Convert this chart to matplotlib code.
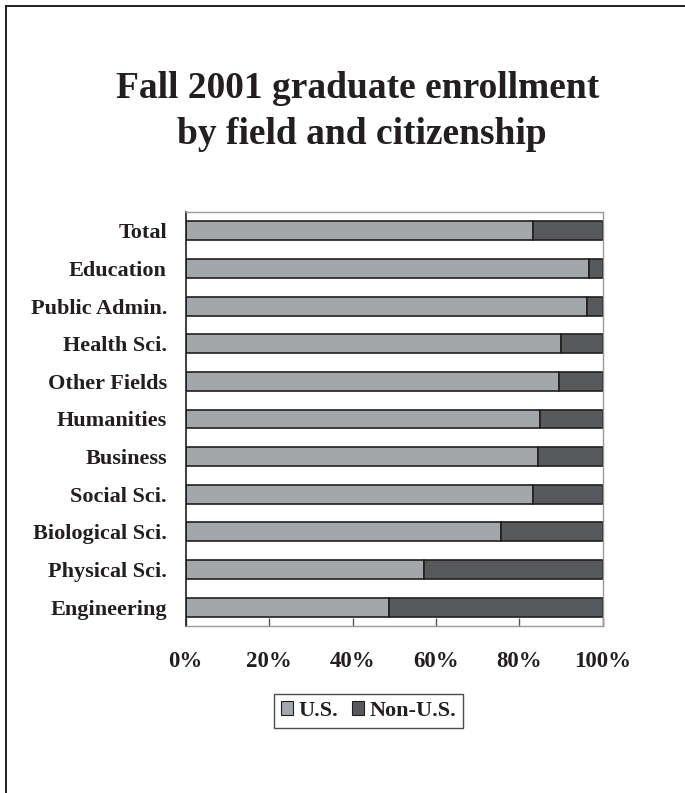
import matplotlib
matplotlib.use("Agg")
import matplotlib.pyplot as plt
from matplotlib.patches import Rectangle
from matplotlib.ticker import FuncFormatter

plt.rcParams["font.family"] = ["Liberation Serif", "DejaVu Serif"]
plt.rcParams["font.weight"] = "bold"

# Fields listed bottom to top
fields = ["Engineering", "Physical Sci.", "Biological Sci.", "Social Sci.",
          "Business", "Humanities", "Other Fields", "Health Sci.",
          "Public Admin.", "Education", "Total"]
us_share = [48.8, 57.1, 75.6, 83.2, 84.5, 85.0, 89.5, 89.9, 96.2, 96.6, 83.2]
non_us_share = [100 - v for v in us_share]
x_ticks = [0, 20, 40, 60, 80, 100]

US_COLOR = "#A4A7AA"
NONUS_COLOR = "#58595B"
INK = "#231F20"

W, H = 685, 793
fig = plt.figure(figsize=(W / 100, H / 100), dpi=100)

# outer page frame
fig.patches.append(Rectangle((6 / W, -0.1), 1.2, 1 - 6 / H + 0.1,
                             transform=fig.transFigure, fill=False,
                             edgecolor=INK, linewidth=1.4))

ax = fig.add_axes([185.7 / W, 1 - 626 / H, 417 / W, 414 / H])

ypos = list(range(len(fields)))
ax.barh(ypos, us_share, height=0.5, color=US_COLOR,
        edgecolor=INK, linewidth=1.2, label="U.S.")
ax.barh(ypos, non_us_share, left=us_share, height=0.5, color=NONUS_COLOR,
        edgecolor=INK, linewidth=1.2, label="Non-U.S.")

ax.set_xlim(0, 100)
ax.set_ylim(-0.5, len(fields) - 0.5)
ax.set_yticks(ypos)
ax.set_yticklabels(fields, fontsize=16, fontweight="bold", color=INK)
ax.tick_params(axis="y", length=0, pad=13.5)
ax.set_xticks(x_ticks)
ax.xaxis.set_major_formatter(FuncFormatter(lambda v, p: f"{v:.0f}%"))
ax.tick_params(axis="x", direction="in", length=6, width=1, color="#555555",
               labelsize=16.5, pad=18, labelcolor=INK)
for lbl in ax.get_xticklabels():
    lbl.set_fontweight("bold")

for side in ["top", "right", "bottom"]:
    ax.spines[side].set_color("#999999")
    ax.spines[side].set_linewidth(1.0)
ax.spines["left"].set_color(INK)
ax.spines["left"].set_linewidth(1.2)

fig.text(358 / W, 1 - 88 / H, "Fall 2001 graduate enrollment",
         ha="center", va="center", fontsize=27, fontweight="bold", color=INK)
fig.text(362 / W, 1 - 135 / H, "by field and citizenship",
         ha="center", va="center", fontsize=27, fontweight="bold", color=INK)

handles = [Rectangle((0, 0), 1, 1, facecolor=US_COLOR, edgecolor=INK, linewidth=0.8),
           Rectangle((0, 0), 1, 1, facecolor=NONUS_COLOR, edgecolor=INK, linewidth=0.8)]
leg = fig.legend(handles, ["U.S.", "Non-U.S."], loc="center",
                 bbox_to_anchor=(368.5 / W, 1 - 711 / H), ncol=2,
                 frameon=True, fancybox=False, fontsize=16,
                 handlelength=0.55, handleheight=0.55, handletextpad=0.25,
                 columnspacing=0.6, borderpad=0.32, borderaxespad=0)
leg.get_frame().set_edgecolor(INK)
leg.get_frame().set_linewidth(1.0)
for t in leg.get_texts():
    t.set_fontweight("bold")
    t.set_color(INK)

fig.savefig("out.png", dpi=100, facecolor="white")
